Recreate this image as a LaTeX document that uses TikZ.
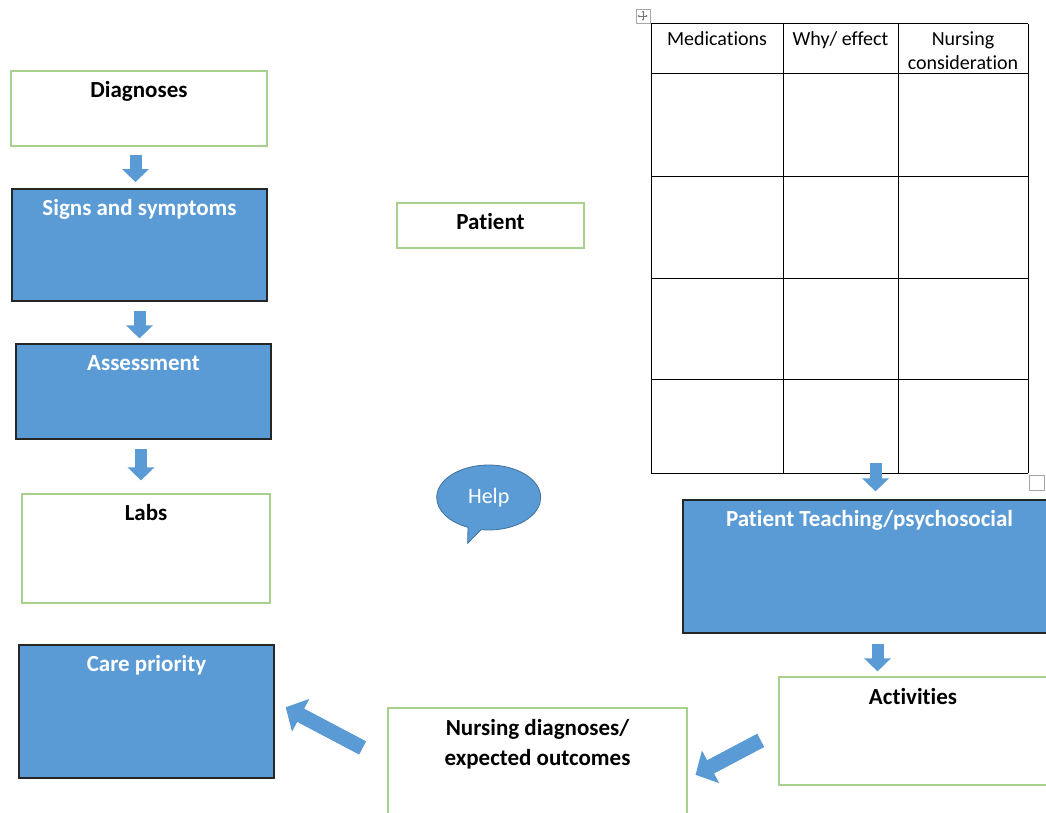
\documentclass[tikz,border=0pt]{standalone}
\usepackage{fontspec}
\setmainfont{Carlito}[Ligatures=NoCommon]
\usetikzlibrary{arrows.meta,positioning,shapes.callouts}
\definecolor{boxBlue}{HTML}{5B9BD5}
\definecolor{lineGreen}{HTML}{A9D18E}
\definecolor{edgeBlue}{HTML}{41719C}
\tikzstyle{recNode} = [rectangle, inner sep=0pt, line width=1.2pt]
\tikzstyle{recNodeG} = [recNode, draw=lineGreen, fill=white]
\tikzstyle{recNodeB} = [recNode, draw=black!85, fill=boxBlue]
\tikzstyle{eNode} = [inner sep=0pt, text height=14.5pt, text depth=4pt, font=\fontsize{23pt}{29pt}\selectfont\bfseries]
\tikzstyle{eNodeW} = [eNode, text=white]
\tikzstyle{tabText} = [inner sep=0pt, anchor=base, font=\fontsize{20pt}{24pt}\selectfont]
\tikzstyle{tabLine} = [line width=1pt, draw=black]
\tikzstyle{uiBox} = [draw=black!35, line width=0.8pt, fill=white]
\tikzstyle{arrowB} = [line width=12pt, draw=boxBlue, -{Triangle[width=26pt,length=13pt]}]
\tikzstyle{arrowBB} = [line width=15pt, draw=boxBlue, -{Triangle[width=36pt,length=17pt]}]

\begin{document}
\begin{tikzpicture}[x=1pt, y=-1pt]
    \useasboundingbox (0,0) rectangle (1046,813);
    % left column
    \node (diag) [recNodeG, minimum width=256pt, minimum height=75pt] at (139,108.5) {};
    \node (signs) [recNodeB, minimum width=255pt, minimum height=112pt] at (139.5,245) {};
    \node (assess) [recNodeB, minimum width=255pt, minimum height=95pt] at (143.5,391.5) {};
    \node (labs) [recNodeG, minimum width=248pt, minimum height=109pt] at (146,548.5) {};
    \node (care) [recNodeB, minimum width=255pt, minimum height=133pt] at (146.5,711.5) {};
    \node (diagT) [eNode, below=12.5pt of diag.north] {Diagnoses};
    \node (signsT) [eNodeW, below=12.5pt of signs.north] {Signs and symptoms};
    \node (assessT) [eNodeW, below=12.5pt of assess.north] {Assessment};
    \node (labsT) [eNode, below=12.5pt of labs.north] {Labs};
    \node (careT) [eNodeW, below=12.5pt of care.north] {Care priority};

    % middle
    \node (patient) [recNodeG, minimum width=187pt, minimum height=45pt] at (490.5,225.5) {};
    \node (patientT) [eNode, below=12pt of patient.north] {Patient};
    \node (help) [ellipse callout, draw=edgeBlue, fill=boxBlue, line width=0.8pt, minimum width=104pt, minimum height=65pt, inner sep=0pt, callout absolute pointer={(467.7,543.3)}, text=white, font=\fontsize{22pt}{26pt}\selectfont] at (488.7,497.5) {Help};

    % table
    \foreach \x in {651,783,898,1028}
        \draw [tabLine] (\x,24) -- (\x,473);
    \foreach \y in {24,74,177,278,379,473}
        \draw [tabLine] (651,\y) -- (1028,\y);
    \node (medH) [tabText] at (717,45.5) {Medications};
    \node (whyH) [tabText] at (840.5,45.5) {Why/ effect};
    \node (nurH) [tabText, align=center] at (963,69.5) {Nursing\\consideration};
    \node (moveBox) [uiBox, minimum size=14pt, inner sep=0pt] at (643,16) {};
    \draw [black!55, line width=0.6pt, {Stealth[length=2pt,width=2.5pt]}-{Stealth[length=2pt,width=2.5pt]}] (moveBox.north) ++(0,2) -- ++(0,10);
    \draw [black!55, line width=0.6pt, {Stealth[length=2pt,width=2.5pt]}-{Stealth[length=2pt,width=2.5pt]}] (moveBox.west) ++(2,0) -- ++(10,0);
    \node (sizeBox) [uiBox, minimum size=15pt, inner sep=0pt] at (1036.5,482.5) {};

    % right and bottom
    \node (teach) [recNodeB, minimum width=373pt, minimum height=133pt] at (869.5,566.5) {};
    \node (act) [recNodeG, minimum width=281pt, minimum height=108pt] at (919.5,731) {};
    \node (nurse) [recNodeG, minimum width=299pt, minimum height=142pt] at (537.5,779) {};
    \node (teachT) [eNodeW, below=12.5pt of teach.north] {Patient Teaching/psychosocial};
    \node (actT) [eNode, below=13pt of act.north, xshift=-6.5pt] {Activities};
    \node (nurseT) [font=\fontsize{23pt}{29.5pt}\selectfont\bfseries, inner sep=0pt, align=center, anchor=base] at ([yshift=-58pt]nurse.north) {Nursing diagnoses/\\expected outcomes};
    \coordinate (tabBot) at (875.5,463);

    % arrows
    \draw [arrowB, shorten <=8pt, shorten >=6.3pt] ([xshift=-3.5pt]diag.south) -- ([xshift=-3.5pt]diag.south |- signs.north);
    \draw [arrowB, shorten <=9pt, shorten >=5pt] (signs.south) -- (signs.south |- assess.north);
    \draw [arrowB, shorten <=9pt, shorten >=13pt] ([xshift=-2.5pt]assess.south) -- ([xshift=-2.5pt]assess.south |- labs.north);
    \draw [arrowB, shorten >=8pt] (tabBot) -- (tabBot |- teach.north);
    \draw [arrowB, shorten <=10pt, shorten >=5pt] ([xshift=8pt]teach.south) -- ([xshift=8pt]teach.south |- act.north);
    \draw [arrowBB, shorten <=20pt, shorten >=9pt] (act.west) -- (nurse.east);
    \draw [arrowBB, shorten <=28pt, shorten >=12.5pt] ([yshift=18pt]nurse.west) -- ([yshift=10pt]care.east);
\end{tikzpicture}
\end{document}
